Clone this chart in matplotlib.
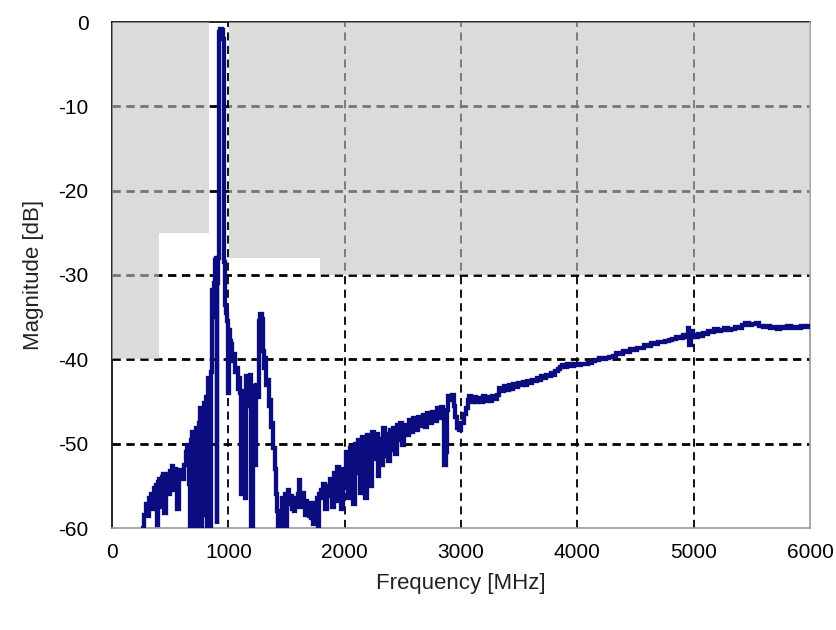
import matplotlib
matplotlib.use("Agg")
import matplotlib.pyplot as plt
from matplotlib import font_manager

# ---------------- data ----------------
freq_mhz = [
    265, 280, 300, 310, 325, 340, 350, 365, 375, 385, 392, 400, 415, 425, 435, 445, 455, 465,
    480, 495, 505, 520, 530, 540, 555, 570, 580, 595, 610, 625, 640, 655, 665, 672, 680, 690,
    700, 710, 720, 730, 740, 750, 760, 770, 780, 790, 800, 812, 820, 830, 840, 850, 858, 865,
    875, 882, 890, 897, 903, 910, 918, 925, 935, 948, 960, 968, 975, 985, 995, 1002, 1010,
    1020, 1030, 1040, 1050, 1060, 1075, 1085, 1095, 1105, 1118, 1130, 1140, 1150, 1160, 1170,
    1180, 1192, 1205, 1212, 1222, 1235, 1245, 1255, 1268, 1280, 1292, 1302, 1312, 1322, 1332,
    1342, 1352, 1362, 1372, 1382, 1392, 1402, 1412, 1422, 1432, 1442, 1460, 1470, 1480, 1490,
    1500, 1510, 1520, 1530, 1540, 1550, 1560, 1570, 1580, 1590, 1600, 1615, 1625, 1635, 1645,
    1655, 1665, 1675, 1685, 1695, 1705, 1715, 1725, 1735, 1745, 1755, 1765, 1775, 1785, 1800,
    1810, 1825, 1840, 1855, 1870, 1885, 1900, 1915, 1930, 1945, 1960, 1975, 1990, 2005, 2020,
    2035, 2050, 2065, 2080, 2095, 2110, 2125, 2140, 2155, 2170, 2185, 2200, 2215, 2230, 2245,
    2260, 2275, 2290, 2305, 2320, 2335, 2350, 2365, 2380, 2395, 2410, 2425, 2440, 2455, 2470,
    2485, 2500, 2520, 2540, 2560, 2580, 2600, 2620, 2640, 2660, 2680, 2700, 2720, 2740, 2760,
    2780, 2800, 2820, 2835, 2850, 2862, 2875, 2885, 2900, 2915, 2930, 2945, 2960, 2975, 2990,
    3005, 3020, 3035, 3050, 3065, 3080, 3100, 3120, 3140, 3160, 3180, 3200, 3220, 3240, 3260,
    3280, 3300, 3320, 3340, 3360, 3380, 3400, 3420, 3440, 3460, 3480, 3500, 3520, 3540, 3560,
    3580, 3600, 3620, 3640, 3660, 3680, 3700, 3720, 3740, 3760, 3780, 3800, 3820, 3840, 3860,
    3880, 3900, 3930, 3960, 3990, 4020, 4050, 4080, 4110, 4140, 4170, 4200, 4230, 4260, 4290,
    4320, 4350, 4380, 4410, 4440, 4470, 4500, 4530, 4560, 4590, 4620, 4650, 4680, 4710, 4740,
    4770, 4800, 4830, 4860, 4890, 4920, 4940, 4955, 4970, 4985, 5000, 5015, 5030, 5050, 5070,
    5090, 5110, 5130, 5160, 5190, 5220, 5250, 5280, 5310, 5340, 5370, 5400, 5430, 5460, 5490,
    5520, 5550, 5580, 5610, 5640, 5670, 5700, 5730, 5760, 5790, 5820, 5850, 5880, 5910, 5940,
    5970, 6000,
]
mag_db = [
    -60.0, -58.5, -57.2, -58.6, -56.5, -56.0, -57.8, -55.2, -55.8, -54.9, -59.6, -54.6, -54.2, -57.5, -54.0, -53.6, -58.2, -54.2,
    -53.6, -56.0, -53.2, -52.7, -55.5, -53.0, -53.4, -57.8, -53.5, -53.1, -54.2, -52.5, -51.0, -50.2, -54.8, -60.0, -49.6, -48.6,
    -60.0, -49.0, -60.0, -48.2, -60.0, -47.6, -45.8, -60.0, -46.0, -58.5, -45.2, -44.5, -60.0, -42.2, -43.5, -60.0, -41.5, -31.8,
    -35.0, -31.0, -28.2, -28.0, -59.5, -31.0, -28.0, -1.2, -0.8, -1.0, -2.0, -28.5, -33.5, -34.5, -35.5, -44.0, -36.5,
    -37.8, -38.2, -40.2, -39.4, -41.5, -41.0, -43.5, -42.2, -44.0, -56.0, -43.8, -45.0, -56.5, -42.0, -44.5,
    -45.5, -41.8, -60.0, -43.2, -46.0, -52.5, -43.0, -44.5, -35.5, -34.6, -35.2, -39.0, -41.0, -39.8, -43.0,
    -42.5, -45.5, -44.8, -48.0, -47.5, -50.5, -53.0, -56.0, -58.0, -60.0, -60.0, -60.0, -56.5, -57.5, -56.0,
    -59.8, -56.6, -55.5, -57.2, -56.2, -57.8, -56.4, -58.0, -56.9, -57.5, -56.0, -54.3, -56.2, -57.5, -55.8,
    -57.0, -58.4, -56.8, -57.4, -58.6, -57.0, -58.8, -57.2, -59.5, -57.0, -58.0, -56.5, -60.0, -56.0, -55.5,
    -56.5, -54.8, -57.8, -55.0, -56.2, -54.2, -57.5, -53.5, -56.8, -52.8, -55.5, -57.8, -53.0, -55.2, -51.0,
    -56.5, -50.5, -54.0, -57.2, -50.0, -53.5, -49.6, -55.8, -49.2, -53.0, -56.5, -49.0, -52.0, -55.0, -48.6,
    -51.8, -48.8, -53.8, -49.5, -52.5, -48.2, -51.5, -48.8, -52.0, -48.4, -50.8, -48.2, -51.2, -47.8, -49.6,
    -47.6, -50.2, -47.8, -49.0, -47.2, -48.6, -47.0, -48.4, -46.8, -47.9, -46.6, -48.0, -46.4, -47.5, -46.2,
    -47.3, -45.8, -47.0, -45.6, -46.5, -52.5, -51.0, -46.0, -44.4, -44.8, -44.2, -45.5, -46.8, -48.2, -48.4,
    -47.5, -47.6, -46.5, -45.8, -44.8, -44.4, -45.0, -44.5, -45.1, -44.6, -45.0, -44.4, -44.9, -44.5, -44.9,
    -44.3, -44.7, -44.2, -43.4, -43.7, -43.2, -43.6, -43.1, -43.5, -42.9, -43.3, -42.8, -43.1, -42.7, -43.0,
    -42.6, -42.8, -42.4, -42.6, -42.2, -42.4, -42.0, -42.2, -41.8, -42.0, -41.6, -41.8, -41.4, -41.2, -40.9,
    -40.7, -40.9, -40.6, -40.8, -40.6, -40.7, -40.5, -40.6, -40.4, -40.2, -40.1, -39.9, -40.0, -39.8, -39.7,
    -39.6, -39.3, -39.4, -39.0, -39.1, -38.8, -38.9, -38.6, -38.7, -38.3, -38.4, -38.1, -38.2, -37.9, -38.0,
    -37.8, -37.7, -37.6, -37.4, -37.5, -37.1, -37.3, -36.3, -38.3, -36.6, -37.4, -37.1, -37.3, -37.0, -37.2,
    -36.9, -37.0, -36.6, -36.7, -36.4, -36.6, -36.5, -36.3, -36.5, -36.4, -36.2, -36.3, -35.9, -35.7, -35.9,
    -35.8, -35.7, -36.0, -36.2, -36.1, -36.3, -36.2, -36.4, -36.2, -36.3, -36.1, -36.3, -36.2, -36.3, -36.1,
    -36.2, -36.1,
]

# limit mask (step edges and levels; 0 = no mask in that band)
mask_edges_mhz = [0, 400, 830, 1010, 1790, 6000]
mask_level_db = [-40, -25, 0, -28, -30, -30]

x_ticks = [0, 1000, 2000, 3000, 4000, 5000, 6000]
y_ticks = [0, -10, -20, -30, -40, -50, -60]

# ---------------- fonts ----------------
avail = {f.name for f in font_manager.fontManager.ttflist}
fam = ['Liberation Sans Narrow', 'Liberation Sans', 'DejaVu Sans']
fam = [f for f in fam if f in avail] or ['DejaVu Sans']
plt.rcParams['font.family'] = fam
plt.rcParams['axes.unicode_minus'] = False

fig = plt.figure(figsize=(8.37, 6.30), dpi=100)
ax = fig.add_axes([112 / 837, 1 - 528 / 630, (810 - 112) / 837, (528 - 22) / 630])

ax.set_xlim(0, 6000)
ax.set_ylim(-60, 0)

# grid drawn under the mask
for xv in x_ticks[1:-1]:
    ax.axvline(xv, color='black', lw=1.3, linestyle=(0, (4.5, 3.0)), zorder=1)
for yv in y_ticks[1:-1]:
    ax.axhline(yv, color='black', lw=2.0, linestyle=(0, (3.0, 2.0)), zorder=1)

# gray limit mask (semi transparent so grid shows through as gray)
lv = list(mask_level_db)
ax.fill_between(mask_edges_mhz, lv, [0] * len(lv), step='post',
                facecolor='#c4c4c4', edgecolor='none', alpha=0.6, zorder=3)

# measured response
ax.plot(freq_mhz, mag_db, color='#0a0c80', lw=3.1, drawstyle='steps-mid',
        solid_joinstyle='miter', zorder=4)

ax.set_xticks(x_ticks)
ax.set_yticks(y_ticks)
ax.tick_params(length=0, labelsize=15, colors='black')
ax.tick_params(axis='y', pad=17)
ax.tick_params(axis='x', pad=11)

for side in ['left', 'top']:
    ax.spines[side].set_color('black')
    ax.spines[side].set_linewidth(1.2)
    ax.spines[side].set_zorder(2)
for side in ['right', 'bottom']:
    ax.spines[side].set_color('#999999')
    ax.spines[side].set_linewidth(1.2)

ax.set_xlabel('Frequency [MHz]', fontsize=16, labelpad=8, color='#222222')
ax.set_ylabel('Magnitude [dB]', fontsize=16, labelpad=10, color='#222222')

fig.savefig('out.png', dpi=100)
